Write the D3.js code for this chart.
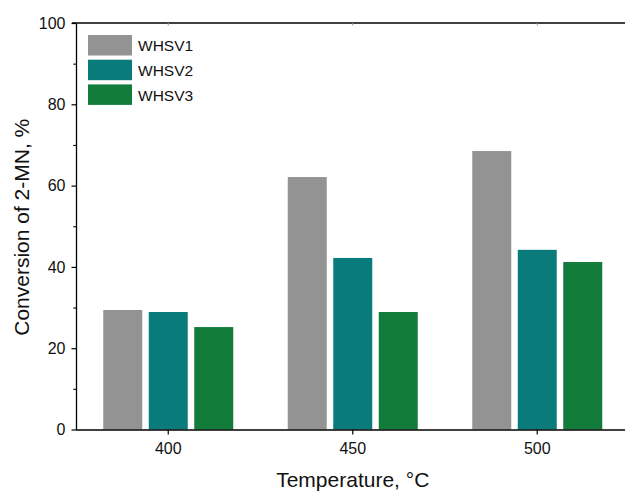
<!DOCTYPE html>
<html>
<head>
<meta charset="utf-8">
<script src="https://cdn.jsdelivr.net/npm/d3@7"></script>
<style>
  html, body { margin: 0; padding: 0; background: #fff; }
  svg { display: block; font-family: "Liberation Sans", Arial, sans-serif; }
</style>
</head>
<body>
<svg id="chart" width="625" height="492"></svg>
<script>
// Conversion of 2-MN at each reaction temperature for three space velocities
const temperatures = ["400", "450", "500"];
const seriesNames = ["WHSV1", "WHSV2", "WHSV3"];
const whsv1 = [29.4, 62.1, 68.5];
const whsv2 = [28.9, 42.2, 44.2];
const whsv3 = [25.2, 28.9, 41.2];
const seriesValues = [whsv1, whsv2, whsv3];
const seriesColors = ["#939393", "#097b7b", "#127c3b"];
const yTicks = [0, 20, 40, 60, 80, 100];
const yMinorTicks = [10, 30, 50, 70, 90];

const svg = d3.select("#chart");
const plotLeft = 76, plotRight = 629.5, plotTop = 23, plotBottom = 429.5;

const x = d3.scaleBand().domain(temperatures).range([plotLeft, plotRight]);
const xSub = d3.scaleBand().domain(seriesNames).range([-65, 65]).paddingInner(0.143).paddingOuter(0);
const y = d3.scaleLinear().domain([0, 100]).range([plotBottom, plotTop]);

// Bars
const groups = svg.append("g").selectAll("g")
  .data(temperatures)
  .join("g")
  .attr("transform", t => `translate(${x(t) + x.bandwidth() / 2},0)`);

groups.selectAll("rect")
  .data((t, i) => seriesNames.map((s, j) => ({ s, v: seriesValues[j][i], c: seriesColors[j] })))
  .join("rect")
  .attr("x", d => xSub(d.s))
  .attr("width", xSub.bandwidth())
  .attr("y", d => y(d.v))
  .attr("height", d => y(0) - y(d.v))
  .attr("fill", d => d.c);

// Y axis with major and minor ticks
const yAxis = svg.append("g").attr("transform", `translate(${plotLeft},0)`)
  .call(d3.axisLeft(y).tickValues(yTicks).tickSize(4.5).tickPadding(6).tickSizeOuter(0));
yAxis.select(".domain").attr("stroke-width", 1.3);
yAxis.selectAll(".tick line").attr("stroke-width", 1.2);
yAxis.selectAll(".tick text").attr("font-size", 16).attr("fill", "#111");

svg.append("g").attr("transform", `translate(${plotLeft},0)`)
  .call(d3.axisLeft(y).tickValues(yMinorTicks).tickSize(2.7).tickFormat("").tickSizeOuter(0))
  .call(g => g.select(".domain").remove())
  .selectAll(".tick line").attr("stroke-width", 1.1);

// X axis
const xAxis = svg.append("g").attr("transform", `translate(0,${plotBottom})`)
  .call(d3.axisBottom(x).tickSize(5).tickPadding(8).tickSizeOuter(0));
xAxis.select(".domain").attr("stroke-width", 1.5).attr("d", `M${plotLeft},0.5H625`);
xAxis.selectAll(".tick line").attr("stroke-width", 1.2);
xAxis.selectAll(".tick text").attr("font-size", 16).attr("fill", "#111");

// Top frame line with faint inner ticks
svg.append("line")
  .attr("x1", 72).attr("x2", 625).attr("y1", plotTop).attr("y2", plotTop)
  .attr("stroke", "#000").attr("stroke-width", 1.5);
svg.append("g").selectAll("line")
  .data(temperatures)
  .join("line")
  .attr("x1", t => x(t) + x.bandwidth() / 2).attr("x2", t => x(t) + x.bandwidth() / 2)
  .attr("y1", plotTop).attr("y2", plotTop + 2.5)
  .attr("stroke", "#999").attr("stroke-width", 1);

// Axis titles
svg.append("text")
  .attr("transform", `translate(28.5,${(plotTop + plotBottom) / 2 + 1}) rotate(-90)`)
  .attr("text-anchor", "middle")
  .attr("font-size", 21).attr("fill", "#111")
  .text("Conversion of 2-MN, %");

svg.append("text")
  .attr("x", x("450") + x.bandwidth() / 2).attr("y", 486.5)
  .attr("text-anchor", "middle")
  .attr("font-size", 21).attr("fill", "#111")
  .text("Temperature, °C");

// Legend
const legend = svg.append("g").attr("transform", "translate(88,35)");
const item = legend.selectAll("g")
  .data(seriesNames)
  .join("g")
  .attr("transform", (d, i) => `translate(0,${i * 24.7})`);
item.append("rect")
  .attr("width", 44).attr("height", 20.5)
  .attr("fill", (d, i) => seriesColors[i]);
item.append("text")
  .attr("x", 50).attr("y", 10.8).attr("dy", "0.35em")
  .attr("font-size", 15.5).attr("fill", "#111")
  .text(d => d);
</script>
</body>
</html>
